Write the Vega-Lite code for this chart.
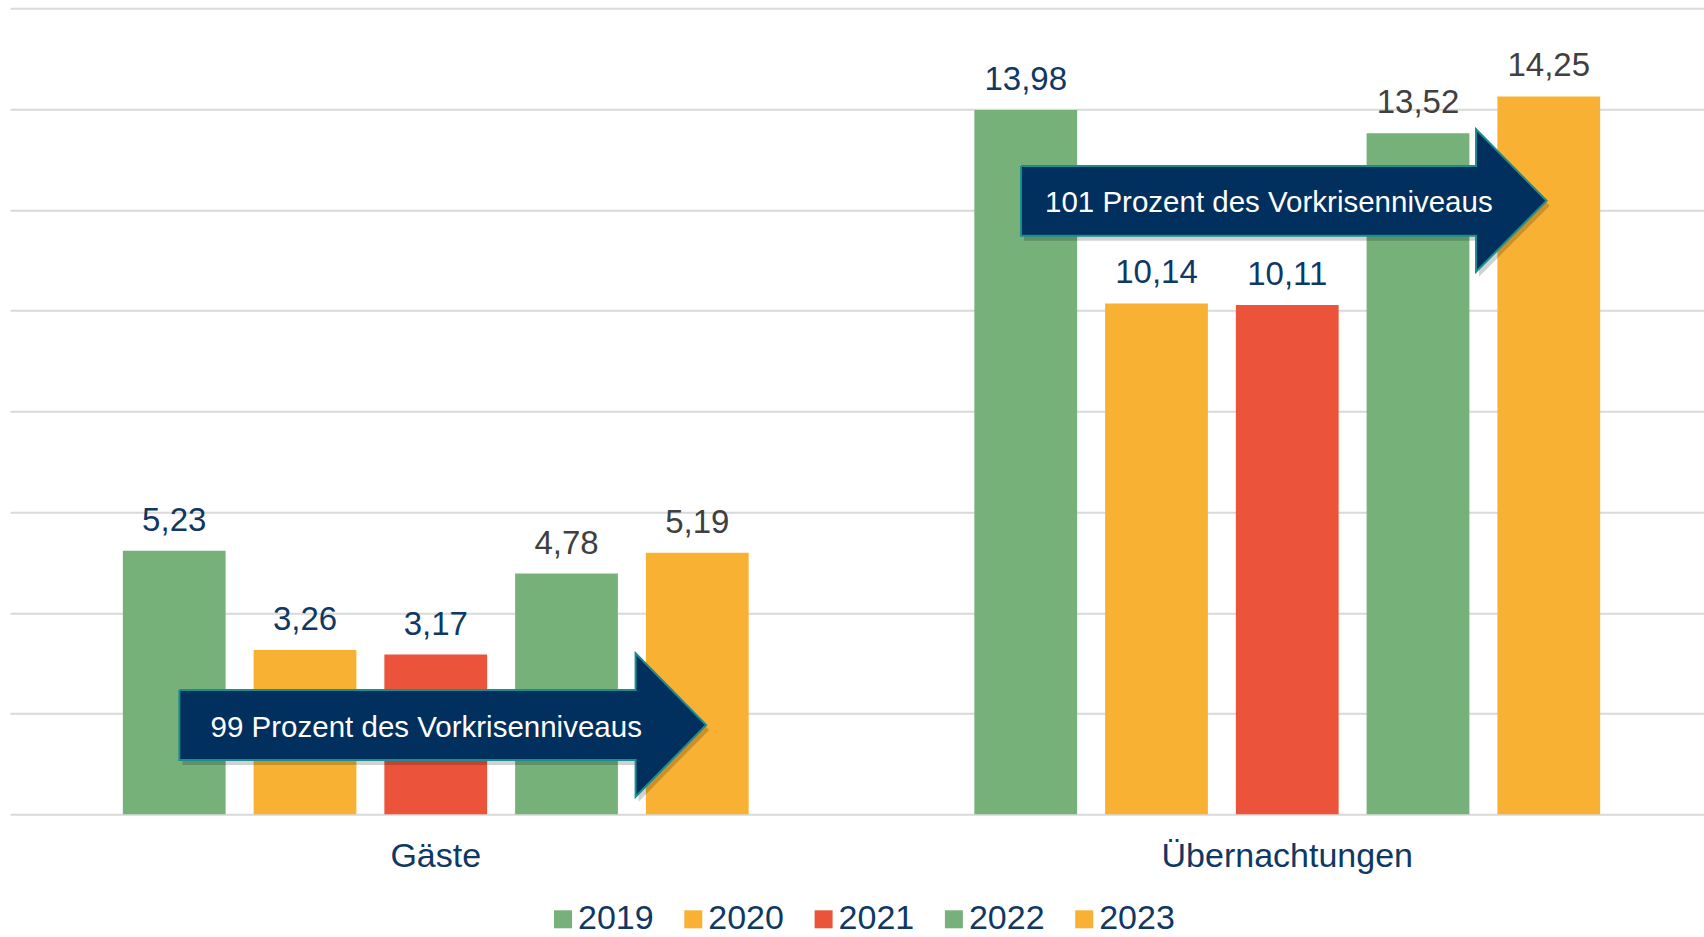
{
  "$schema": "https://vega.github.io/schema/vega-lite/v6.json",
  "autosize": {"type": "none"},
  "padding": {"left": 10, "top": 8.3, "right": 0, "bottom": 122.7},
  "width": 1703,
  "height": 806,
  "background": "#ffffff",
  "config": {
    "view": {"stroke": null},
    "font": "Liberation Sans",
    "locale": {"number": {"decimal": ",", "thousands": ".", "grouping": [3], "currency": ["", " €"]}},
    "axisY": {"labels": false, "ticks": false, "domain": false, "title": null, "grid": true, "gridColor": "#D9D9D9", "gridWidth": 2}
  },
  "datasets": {
    "bars": [
      {"group": "Gäste", "year": "2019", "value": 5.23},
      {"group": "Gäste", "year": "2020", "value": 3.26},
      {"group": "Gäste", "year": "2021", "value": 3.17},
      {"group": "Gäste", "year": "2022", "value": 4.78},
      {"group": "Gäste", "year": "2023", "value": 5.19},
      {"group": "Übernachtungen", "year": "2019", "value": 13.98},
      {"group": "Übernachtungen", "year": "2020", "value": 10.14},
      {"group": "Übernachtungen", "year": "2021", "value": 10.11},
      {"group": "Übernachtungen", "year": "2022", "value": 13.52},
      {"group": "Übernachtungen", "year": "2023", "value": 14.25}
    ],
    "arrows": [
      {"arrow": "a1", "i": 1, "u": 0.1989, "v": 2.467},
      {"arrow": "a1", "i": 2, "u": 0.7347, "v": 2.467},
      {"arrow": "a1", "i": 3, "u": 0.7347, "v": 3.196},
      {"arrow": "a1", "i": 4, "u": 0.8176, "v": 1.773},
      {"arrow": "a1", "i": 5, "u": 0.7347, "v": 0.349},
      {"arrow": "a1", "i": 6, "u": 0.7347, "v": 1.078},
      {"arrow": "a1", "i": 7, "u": 0.1989, "v": 1.078},
      {"arrow": "a1", "i": 8, "u": 0.1989, "v": 2.467},
      {"arrow": "a2", "i": 1, "u": 1.1873, "v": 12.87},
      {"arrow": "a2", "i": 2, "u": 1.7217, "v": 12.87},
      {"arrow": "a2", "i": 3, "u": 1.7217, "v": 13.598},
      {"arrow": "a2", "i": 4, "u": 1.8046, "v": 12.18},
      {"arrow": "a2", "i": 5, "u": 1.7217, "v": 10.771},
      {"arrow": "a2", "i": 6, "u": 1.7217, "v": 11.486},
      {"arrow": "a2", "i": 7, "u": 1.1873, "v": 11.486},
      {"arrow": "a2", "i": 8, "u": 1.1873, "v": 12.87}
    ],
    "arrowText": [
      {"u": 0.2356, "v": 1.54, "text": "99 Prozent des Vorkrisenniveaus"},
      {"u": 1.2155, "v": 11.962, "text": "101 Prozent des Vorkrisenniveaus"}
    ]
  },
  "layer": [
    {
      "data": {"name": "bars"},
      "encoding": {
        "x": {
          "field": "group", "type": "nominal", "sort": ["Gäste", "Übernachtungen"],
          "scale": {"paddingInner": 0, "paddingOuter": 0},
          "axis": {"title": null, "ticks": false, "tickSize": 0, "domain": false, "grid": false, "labelAngle": 0, "labelFontSize": 34, "labelColor": "#0F3864", "labelPadding": 25, "labelFont": "Liberation Sans", "labelLimit": 0}
        },
        "xOffset": {"field": "year", "type": "nominal", "scale": {"paddingInner": 0.214, "paddingOuter": 0.863}},
        "y": {"field": "value", "type": "quantitative", "scale": {"domain": [0, 16], "nice": false}, "axis": {"values": [0, 2, 4, 6, 8, 10, 12, 14, 16]}}
      },
      "layer": [
        {
          "mark": {"type": "bar"},
          "encoding": {
            "color": {
              "field": "year", "type": "nominal",
              "scale": {"domain": ["2019", "2020", "2021", "2022", "2023"], "range": ["#76B17A", "#F8B133", "#EB533A", "#76B17A", "#F8B133"]},
              "legend": {
                "title": null, "orient": "none", "direction": "horizontal", "legendX": 536, "legendY": 894,
                "symbolType": "square", "symbolSize": 324, "symbolStrokeWidth": 0,
                "labelFontSize": 34, "labelColor": "#0F3864", "labelFont": "Liberation Sans",
                "labelOffset": -2, "columnPadding": 22.3, "padding": 0
              }
            }
          }
        },
        {
          "mark": {"type": "text", "baseline": "alphabetic", "dy": -20, "fontSize": 33, "font": "Liberation Sans"},
          "encoding": {
            "text": {"field": "value", "type": "quantitative", "format": ".2f"},
            "color": {"condition": {"test": "datum.year == '2022' || datum.year == '2023'", "value": "#404040"}, "value": "#0F3864"}
          }
        }
      ]
    },
    {
      "layer": [
        {
          "data": {"name": "arrows"},
          "mark": {"type": "line", "fill": "#000000", "fillOpacity": 0.18, "strokeWidth": 0, "xOffset": 3, "yOffset": 5},
          "encoding": {
            "x": {"field": "u", "type": "quantitative", "scale": {"domain": [0, 2], "nice": false, "zero": false}, "axis": null},
            "y": {"field": "v", "type": "quantitative", "scale": {"domain": [0, 16], "nice": false}, "axis": {"values": [0, 2, 4, 6, 8, 10, 12, 14, 16]}},
            "order": {"field": "i", "type": "quantitative"},
            "detail": {"field": "arrow", "type": "nominal"}
          }
        },
        {
          "data": {"name": "arrows"},
          "mark": {"type": "line", "fill": "#012F5E", "stroke": "#1E8C8C", "strokeWidth": 2},
          "encoding": {
            "x": {"field": "u", "type": "quantitative", "scale": {"domain": [0, 2], "nice": false, "zero": false}, "axis": null},
            "y": {"field": "v", "type": "quantitative", "scale": {"domain": [0, 16], "nice": false}, "axis": {"values": [0, 2, 4, 6, 8, 10, 12, 14, 16]}},
            "order": {"field": "i", "type": "quantitative"},
            "detail": {"field": "arrow", "type": "nominal"}
          }
        },
        {
          "data": {"name": "arrowText"},
          "mark": {"type": "text", "align": "left", "baseline": "alphabetic", "fontSize": 29.5, "color": "#FFFFFF", "font": "Liberation Sans"},
          "encoding": {
            "x": {"field": "u", "type": "quantitative", "scale": {"domain": [0, 2], "nice": false, "zero": false}, "axis": null},
            "y": {"field": "v", "type": "quantitative", "scale": {"domain": [0, 16], "nice": false}, "axis": {"values": [0, 2, 4, 6, 8, 10, 12, 14, 16]}},
            "text": {"field": "text", "type": "nominal"}
          }
        }
      ]
    }
  ],
  "resolve": {"scale": {"x": "independent"}, "axis": {"x": "independent"}}
}
